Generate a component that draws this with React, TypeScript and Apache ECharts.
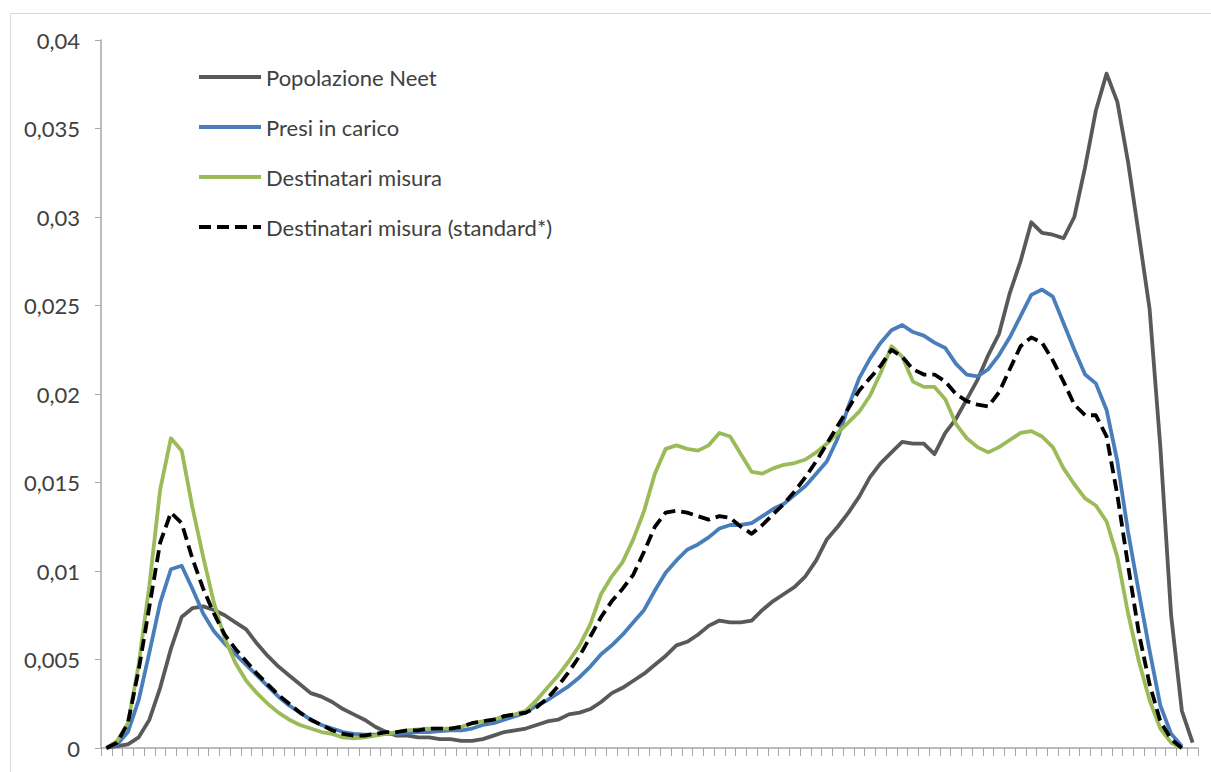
import React, { useEffect, useRef } from "react";
import * as echarts from "echarts";

const categories: string[] = Array.from({ length: 102 }, (_, i) => String(i + 1));

const seriesNames = [
  "Popolazione Neet",
  "Presi in carico",
  "Destinatari misura",
  "Destinatari misura (standard*)",
];

const neet: (number | null)[] = [
  0, 0.0001, 0.0002, 0.0006, 0.0016, 0.0034, 0.0056, 0.0074, 0.0079, 0.0080,
  0.0078, 0.0075, 0.0071, 0.0067, 0.0059, 0.0052, 0.0046, 0.0041, 0.0036, 0.0031,
  0.0029, 0.0026, 0.0022, 0.0019, 0.0016, 0.0012, 0.0009, 0.0007, 0.0007, 0.0006,
  0.0006, 0.0005, 0.0005, 0.0004, 0.0004, 0.0005, 0.0007, 0.0009, 0.0010, 0.0011,
  0.0013, 0.0015, 0.0016, 0.0019, 0.0020, 0.0022, 0.0026, 0.0031, 0.0034, 0.0038,
  0.0042, 0.0047, 0.0052, 0.0058, 0.0060, 0.0064, 0.0069, 0.0072, 0.0071, 0.0071,
  0.0072, 0.0078, 0.0083, 0.0087, 0.0091, 0.0097, 0.0106, 0.0118, 0.0125, 0.0133,
  0.0142, 0.0153, 0.0161, 0.0167, 0.0173, 0.0172, 0.0172, 0.0166, 0.0178, 0.0186,
  0.0197, 0.0208, 0.0222, 0.0234, 0.0257, 0.0275, 0.0297, 0.0291, 0.0290, 0.0288,
  0.0300, 0.0328, 0.0360, 0.0381, 0.0365, 0.0331, 0.0290, 0.0248, 0.0170, 0.0075,
  0.0021, 0.0003,
];

const presi: (number | null)[] = [
  0, 0.0002, 0.0009, 0.0027, 0.0054, 0.0082, 0.0101, 0.0103, 0.0090, 0.0076,
  0.0066, 0.0059, 0.0053, 0.0047, 0.0041, 0.0035, 0.0029, 0.0024, 0.0020, 0.0016,
  0.0013, 0.0011, 0.0009, 0.0008, 0.00075, 0.00075, 0.0008, 0.0008, 0.00085, 0.0009,
  0.0009, 0.00095, 0.0010, 0.0010, 0.0011, 0.0013, 0.0014, 0.0016, 0.0018, 0.0020,
  0.0024, 0.0027, 0.0031, 0.0035, 0.0040, 0.0046, 0.0053, 0.0058, 0.0064, 0.0071,
  0.0078, 0.0089, 0.0099, 0.0106, 0.0112, 0.0115, 0.0119, 0.0124, 0.0126, 0.0126,
  0.0127, 0.0131, 0.0135, 0.0138, 0.0143, 0.0148, 0.0155, 0.0162, 0.0175, 0.0193,
  0.0209, 0.0220, 0.0229, 0.0236, 0.0239, 0.0235, 0.0233, 0.0229, 0.0226, 0.0217,
  0.0211, 0.0210, 0.0214, 0.0222, 0.0232, 0.0244, 0.0256, 0.0259, 0.0255, 0.0240,
  0.0225, 0.0211, 0.0206, 0.0191, 0.0162, 0.0122, 0.0088, 0.0055, 0.0024, 0.0008,
  0.0001, null,
];

const destinatari: (number | null)[] = [
  0, 0.0004, 0.0014, 0.0047, 0.0092, 0.0146, 0.0175, 0.0168, 0.0136, 0.0108,
  0.0082, 0.0062, 0.0048, 0.0038, 0.0031, 0.0025, 0.0020, 0.0016, 0.0013, 0.0011,
  0.0009, 0.0008, 0.0006, 0.00055, 0.0006, 0.0007, 0.0008, 0.0009, 0.0010, 0.00105,
  0.0011, 0.0011, 0.0011, 0.0012, 0.0014, 0.0015, 0.0016, 0.0018, 0.0019, 0.0021,
  0.0027, 0.0034, 0.0041, 0.0049, 0.0058, 0.0070, 0.0087, 0.0097, 0.0105, 0.0118,
  0.0134, 0.0155, 0.0169, 0.0171, 0.0169, 0.0168, 0.0171, 0.0178, 0.0176, 0.0166,
  0.0156, 0.0155, 0.0158, 0.0160, 0.0161, 0.0163, 0.0167, 0.0172, 0.0178, 0.0184,
  0.0190, 0.0199, 0.0212, 0.0227, 0.0221, 0.0207, 0.0204, 0.0204, 0.0197, 0.0183,
  0.0175, 0.0170, 0.0167, 0.0170, 0.0174, 0.0178, 0.0179, 0.0176, 0.0170, 0.0158,
  0.0149, 0.0141, 0.0137, 0.0128, 0.0108, 0.0076, 0.0049, 0.0027, 0.0011, 0.0003,
  0, null,
];

const standard: (number | null)[] = [
  0, 0.0003, 0.0014, 0.0044, 0.0080, 0.0116, 0.0133, 0.0127, 0.0107, 0.0090,
  0.0076, 0.0064, 0.0056, 0.0049, 0.0042, 0.0036, 0.0030, 0.0025, 0.0020, 0.0016,
  0.0013, 0.0010, 0.0008, 0.0007, 0.0007, 0.0008, 0.0009, 0.0009, 0.0010, 0.0010,
  0.0011, 0.0011, 0.0011, 0.0012, 0.0014, 0.0015, 0.0016, 0.0018, 0.0019, 0.0020,
  0.0023, 0.0028, 0.0035, 0.0043, 0.0052, 0.0063, 0.0074, 0.0083, 0.0090, 0.0098,
  0.0111, 0.0125, 0.0133, 0.0134, 0.0133, 0.0131, 0.0129, 0.0131, 0.0130, 0.0125,
  0.0121, 0.0126, 0.0132, 0.0138, 0.0145, 0.0153, 0.0162, 0.0172, 0.0182, 0.0192,
  0.0202, 0.0209, 0.0216, 0.0225, 0.0221, 0.0214, 0.0211, 0.0211, 0.0207, 0.0200,
  0.0196, 0.0194, 0.0193, 0.0201, 0.0214, 0.0227, 0.0232, 0.0229, 0.0219, 0.0207,
  0.0194, 0.0188, 0.0188, 0.0176, 0.0143, 0.0103, 0.0065, 0.0036, 0.0015, 0.0005,
  0, null,
];

const seriesData = [neet, presi, destinatari, standard];
const colors = ["#595959", "#4a7ebb", "#9bbb59", "#000000"];

export default function App() {
  const ref = useRef<HTMLDivElement>(null);

  useEffect(() => {
    if (!ref.current) return;
    const chart = echarts.init(ref.current, null, { renderer: "svg" });
    const axisColor = "#a6a6a6";
    chart.setOption({
      animation: false,
      backgroundColor: "#ffffff",
      textStyle: { fontFamily: "Lato" },
      graphic: [
        {
          type: "rect",
          silent: true,
          z: -10,
          shape: { x: 10.5, y: 13.5, width: 1300, height: 900 },
          style: { fill: "none", stroke: "#d9d9d9", lineWidth: 1 },
        },
      ],
      grid: { left: 101, right: 13, top: 40, bottom: 24, containLabel: false },
      legend: {
        orient: "vertical",
        left: 197,
        top: 66,
        padding: 0,
        itemWidth: 62,
        itemHeight: 14,
        itemGap: 28,
        itemStyle: { opacity: 0 },
        lineStyle: { width: 4 },
        textStyle: { fontSize: 22, color: "#404040", fontFamily: "Lato", padding: [0, 0, 0, 0] },
        data: seriesNames,
      },
      xAxis: {
        type: "category",
        data: categories,
        boundaryGap: true,
        axisLine: { show: true, lineStyle: { color: axisColor, width: 1.5 } },
        axisTick: { show: true, interval: 0, length: 8, lineStyle: { color: axisColor, width: 1 } },
        axisLabel: { show: false },
        splitLine: { show: false },
      },
      yAxis: {
        type: "value",
        min: 0,
        max: 0.04,
        interval: 0.005,
        axisLine: { show: true, lineStyle: { color: axisColor, width: 1.5 } },
        axisTick: { show: true, length: 6, lineStyle: { color: axisColor } },
        splitLine: { show: false },
        axisLabel: {
          margin: 21,
          fontSize: 22,
          color: "#404040",
          fontFamily: "Lato",
          formatter: (v: number) =>
            v === 0 ? "0" : String(+v.toFixed(3)).replace(".", ","),
        },
      },
      series: seriesNames.map((name, i) => ({
        name,
        type: "line",
        data: seriesData[i],
        showSymbol: false,
        symbol: "none",
        connectNulls: false,
        z: i + 2,
        itemStyle: { color: colors[i] },
        lineStyle: {
          color: colors[i],
          width: 3.8,
          type: i === 3 ? [12, 6] : "solid",
          cap: "butt",
          join: "round",
        },
      })),
    });
    return () => chart.dispose();
  }, []);

  return (
    <div
      ref={ref}
      style={{ position: "fixed", left: 0, top: 0, width: 1211, height: 772 }}
    />
  );
}
